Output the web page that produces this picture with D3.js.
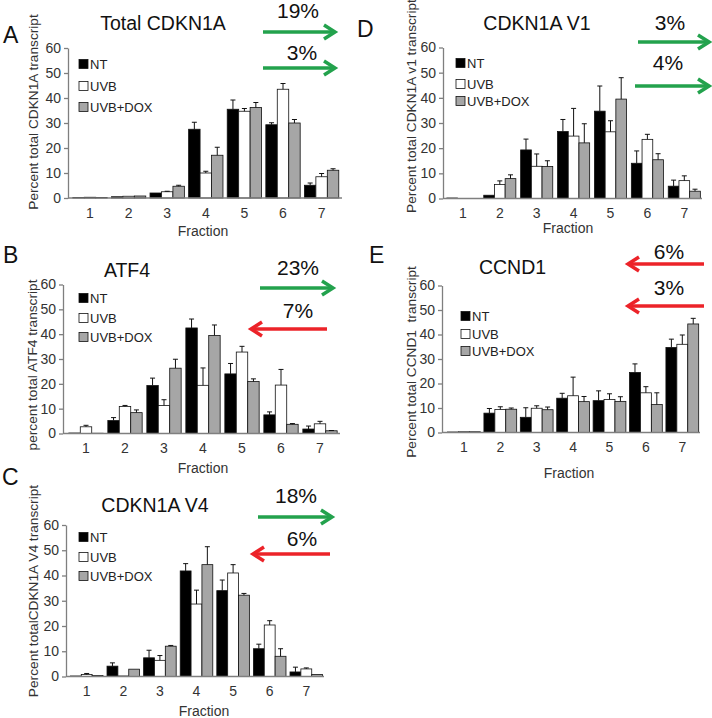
<!DOCTYPE html>
<html>
<head>
<meta charset="utf-8">
<script src="https://cdn.jsdelivr.net/npm/d3@7"></script>
<style>
  html, body { margin: 0; padding: 0; background: #fff; }
  svg { display: block; font-family: Arial, "Liberation Sans", Helvetica, sans-serif; }
</style>
</head>
<body>
<svg id="fig" width="712" height="718"></svg>
<script>
// ---------------- DATA ----------------
const fractions = ["1", "2", "3", "4", "5", "6", "7"];
const seriesNames = ["NT", "UVB", "UVB+DOX"];
const yTicks = [0, 10, 20, 30, 40, 50, 60];
const xAxisLabel = "Fraction";

// Panel A: Total CDKN1A
const totalCDKN1A_NT      = [0.2, 0.5, 2.0, 27.5, 35.5, 29.3, 5.1];
const totalCDKN1A_NT_err  = [0, 0, 0, 2.8, 3.7, 0.8, 0.9];
const totalCDKN1A_UVB     = [0.3, 0.7, 2.5, 10.0, 34.7, 43.5, 8.5];
const totalCDKN1A_UVB_err = [0, 0, 0.2, 0.7, 1.1, 2.3, 1.3];
const totalCDKN1A_DOX     = [0.2, 0.8, 4.7, 17.1, 36.2, 30.0, 11.1];
const totalCDKN1A_DOX_err = [0, 0, 0.4, 3.2, 2.0, 1.4, 0.6];

// Panel B: ATF4
const atf4_NT      = [0.2, 5.2, 19.3, 42.5, 24.0, 7.5, 1.8];
const atf4_NT_err  = [0, 1.2, 3.0, 3.6, 4.2, 1.2, 1.2];
const atf4_UVB     = [2.7, 10.9, 11.3, 19.4, 32.8, 19.5, 3.9];
const atf4_UVB_err = [0.6, 0.4, 2.3, 7.0, 2.3, 6.3, 1.0];
const atf4_DOX     = [0.1, 8.4, 26.3, 39.5, 20.9, 3.7, 1.1];
const atf4_DOX_err = [0, 1.1, 3.6, 4.2, 1.1, 0.3, 0.1];

// Panel C: CDKN1A V4
const v4_NT      = [0.2, 4.1, 7.4, 41.8, 34.0, 11.0, 1.8];
const v4_NT_err  = [0, 1.3, 3.0, 2.9, 4.2, 1.8, 1.9];
const v4_UVB     = [0.8, 0.2, 6.4, 28.7, 41.0, 20.4, 3.0];
const v4_UVB_err = [0.4, 0, 1.9, 5.5, 3.3, 1.7, 0.4];
const v4_DOX     = [0.4, 2.9, 12.0, 44.3, 32.2, 8.0, 0.8];
const v4_DOX_err = [0, 0, 0.3, 7.1, 0.7, 3.0, 0];

// Panel D: CDKN1A V1
const v1_NT      = [0.2, 1.3, 19.3, 26.6, 34.7, 14.0, 4.9];
const v1_NT_err  = [0, 0, 4.3, 4.8, 10.0, 4.9, 2.4];
const v1_UVB     = [0, 5.6, 12.8, 24.8, 26.5, 23.5, 7.1];
const v1_UVB_err = [0, 1.4, 4.9, 11.0, 4.4, 2.0, 1.9];
const v1_DOX     = [0, 7.9, 12.7, 22.1, 39.5, 15.4, 2.9];
const v1_DOX_err = [0, 1.5, 2.3, 7.6, 8.5, 2.4, 0.8];

// Panel E: CCND1
const ccnd1_NT      = [0.2, 7.9, 6.2, 14.0, 13.0, 24.5, 34.7];
const ccnd1_NT_err  = [0, 1.9, 3.9, 2.0, 4.0, 3.5, 3.4];
const ccnd1_UVB     = [0.3, 9.4, 9.9, 15.0, 13.5, 16.2, 36.0];
const ccnd1_UVB_err = [0, 1.1, 1.0, 7.6, 2.3, 2.5, 3.8];
const ccnd1_DOX     = [0.3, 9.5, 9.3, 12.6, 12.7, 11.4, 44.3];
const ccnd1_DOX_err = [0, 0.5, 1.1, 2.1, 1.9, 4.8, 2.3];

// Shift annotations (label text + direction)
const annotA = [{ text: "19%", dir: "right" }, { text: "3%", dir: "right" }];
const annotB = [{ text: "23%", dir: "right" }, { text: "7%", dir: "left" }];
const annotC = [{ text: "18%", dir: "right" }, { text: "6%", dir: "left" }];
const annotD = [{ text: "3%", dir: "right" }, { text: "4%", dir: "right" }];
const annotE = [{ text: "6%", dir: "left" }, { text: "3%", dir: "left" }];

// ---------------- STYLE ----------------
const seriesFill = { "NT": "#000000", "UVB": "#ffffff", "UVB+DOX": "#a6a6a6" };
const arrowColor = { right: "#23a24d", left: "#ec2329" };
const axisColor = "#7f7f7f";

// ---------------- PANELS (data + layout) ----------------
function makeSeries(nt, ntE, uvb, uvbE, dox, doxE) {
  return [
    { name: "NT", values: nt, errs: ntE },
    { name: "UVB", values: uvb, errs: uvbE },
    { name: "UVB+DOX", values: dox, errs: doxE }
  ];
}

const panels = [
  { letter: "A", title: "Total CDKN1A", ylabel: "Percent total CDKN1A transcript",
    series: makeSeries(totalCDKN1A_NT, totalCDKN1A_NT_err, totalCDKN1A_UVB, totalCDKN1A_UVB_err, totalCDKN1A_DOX, totalCDKN1A_DOX_err),
    annot: annotA,
    L: { axisX: 68, axisEnd: 342, y0: 198, y60: 48, cx1: 90, step: 38.6, pad: 0.11,
         letterX: 3, letterY: 43, titleX: 163, titleY: 30,
         ylabX: 38, ylabY: 112, fracX: 203, fracY: 236,
         legX: 79, legY: [64, 86, 107],
         arrows: [{ x1: 263, x2: 335, y: 32, tx: 298, ty: 18 }, { x1: 263, x2: 335, y: 68, tx: 302, ty: 60 }] } },
  { letter: "B", title: "ATF4", ylabel: "percent total ATF4 transcript",
    series: makeSeries(atf4_NT, atf4_NT_err, atf4_UVB, atf4_UVB_err, atf4_DOX, atf4_DOX_err),
    annot: annotB,
    L: { axisX: 63, axisEnd: 340, y0: 433.5, y60: 284.5, cx1: 86, step: 39, pad: 0.12,
         letterX: 3, letterY: 263, titleX: 127, titleY: 276.5,
         ylabX: 37, ylabY: 365, fracX: 203, fracY: 473,
         legX: 79, legY: [298, 318, 337],
         arrows: [{ x1: 260, x2: 333, y: 288, tx: 298, ty: 275 }, { x1: 327, x2: 251, y: 329, tx: 298, ty: 318 }] } },
  { letter: "C", title: "CDKN1A V4", ylabel: "Percent totalCDKN1A V4 transcript",
    series: makeSeries(v4_NT, v4_NT_err, v4_UVB, v4_UVB_err, v4_DOX, v4_DOX_err),
    annot: annotC,
    L: { axisX: 66, axisEnd: 324, y0: 676.5, y60: 525, cx1: 86.7, step: 36.6, pad: 0.11,
         letterX: 2, letterY: 485, titleX: 155, titleY: 511.5,
         ylabX: 38, ylabY: 591, fracX: 204, fracY: 716,
         legX: 79, legY: [537, 557, 576],
         arrows: [{ x1: 258, x2: 332, y: 517, tx: 296, ty: 503 }, { x1: 330, x2: 253, y: 554, tx: 302, ty: 546 }] } },
  { letter: "D", title: "CDKN1A V1", ylabel: "Percent total CDKN1A v1 transcript",
    series: makeSeries(v1_NT, v1_NT_err, v1_UVB, v1_UVB_err, v1_DOX, v1_DOX_err),
    annot: annotD,
    L: { axisX: 443, axisEnd: 702, y0: 198.5, y60: 47.5, cx1: 462.9, step: 36.9, pad: 0.13,
         letterX: 357, letterY: 36.5, titleX: 537, titleY: 30,
         ylabX: 416, ylabY: 106, fracX: 568, fracY: 233,
         legX: 456, legY: [63, 84, 101],
         arrows: [{ x1: 638, x2: 709, y: 42, tx: 670, ty: 30 }, { x1: 635, x2: 709, y: 86, tx: 668, ty: 70 }] } },
  { letter: "E", title: "CCND1", ylabel: "Percent total CCND1  transcript",
    series: makeSeries(ccnd1_NT, ccnd1_NT_err, ccnd1_UVB, ccnd1_UVB_err, ccnd1_DOX, ccnd1_DOX_err),
    annot: annotE,
    L: { axisX: 442, axisEnd: 700, y0: 432.5, y60: 285.5, cx1: 463.9, step: 36.4, pad: 0.1,
         letterX: 369, letterY: 263, titleX: 512.5, titleY: 273.5,
         ylabX: 416, ylabY: 362, fracX: 569, fracY: 478,
         legX: 461, legY: [316, 334, 351],
         arrows: [{ x1: 704, x2: 628, y: 264, tx: 669, ty: 259 }, { x1: 704, x2: 628, y: 306, tx: 669, ty: 295 }] } }
];

// ---------------- DRAW ----------------
const svg = d3.select("#fig");

panels.forEach(p => {
  const L = p.L;
  const g = svg.append("g");

  const y = d3.scaleLinear().domain([0, 60]).range([L.y0, L.y60]);
  const x = d3.scaleBand().domain(fractions)
    .range([L.cx1 - L.step / 2, L.cx1 + (fractions.length - 0.5) * L.step])
    .paddingInner(L.pad).paddingOuter(L.pad / 2);
  const xs = d3.scaleBand().domain(seriesNames).range([0, x.bandwidth()]);

  // bars
  p.series.forEach(s => {
    const sg = g.append("g");
    sg.selectAll("rect").data(fractions).join("rect")
      .attr("x", (f) => x(f) + xs(s.name))
      .attr("y", (f, i) => y(s.values[i]))
      .attr("width", xs.bandwidth())
      .attr("height", (f, i) => y(0) - y(s.values[i]))
      .attr("fill", seriesFill[s.name])
      .attr("stroke", "#111")
      .attr("stroke-width", 0.8);
    // error bars (upper only)
    const eg = sg.selectAll("g.err").data(fractions.map((f, i) => ({ f, v: s.values[i], e: s.errs[i] })).filter(d => d.e > 0))
      .join("g").attr("class", "err");
    eg.append("line")
      .attr("x1", d => x(d.f) + xs(s.name) + xs.bandwidth() / 2)
      .attr("x2", d => x(d.f) + xs(s.name) + xs.bandwidth() / 2)
      .attr("y1", d => y(d.v))
      .attr("y2", d => y(d.v + d.e))
      .attr("stroke", "#111").attr("stroke-width", 1);
    eg.append("line")
      .attr("x1", d => x(d.f) + xs(s.name) + xs.bandwidth() / 2 - 2.5)
      .attr("x2", d => x(d.f) + xs(s.name) + xs.bandwidth() / 2 + 2.5)
      .attr("y1", d => y(d.v + d.e))
      .attr("y2", d => y(d.v + d.e))
      .attr("stroke", "#111").attr("stroke-width", 1);
  });

  // y axis
  const ya = g.append("g").attr("transform", `translate(${L.axisX},0)`)
    .call(d3.axisLeft(y).tickValues(yTicks).tickSize(4).tickSizeOuter(0).tickPadding(3));
  ya.select(".domain").attr("stroke", axisColor).attr("stroke-width", 1.3);
  ya.selectAll(".tick line").attr("stroke", axisColor).attr("stroke-width", 1.3);
  ya.selectAll(".tick text").attr("font-size", 14).attr("fill", "#333")
    .attr("font-family", "Arial, 'Liberation Sans', sans-serif");

  // x axis line
  g.append("line").attr("x1", L.axisX).attr("x2", L.axisEnd)
    .attr("y1", y(0)).attr("y2", y(0))
    .attr("stroke", axisColor).attr("stroke-width", 1.3);
  const xa = g.append("g").attr("transform", `translate(0,${y(0)})`)
    .call(d3.axisBottom(x).tickSize(0).tickPadding(10));
  xa.select(".domain").remove();
  xa.selectAll(".tick text").attr("font-size", 14).attr("fill", "#333")
    .attr("font-family", "Arial, 'Liberation Sans', sans-serif");

  // axis titles
  g.append("text").attr("x", L.fracX).attr("y", L.fracY)
    .attr("text-anchor", "middle").attr("font-size", 14).attr("fill", "#333")
    .text(xAxisLabel);
  g.append("text")
    .attr("transform", `translate(${L.ylabX},${L.ylabY}) rotate(-90)`)
    .attr("text-anchor", "middle").attr("font-size", 13.7).attr("fill", "#333")
    .style("white-space", "pre")
    .text(p.ylabel);

  // panel letter and title
  g.append("text").attr("x", L.letterX).attr("y", L.letterY)
    .attr("font-size", 23).attr("fill", "#111").text(p.letter);
  g.append("text").attr("x", L.titleX).attr("y", L.titleY)
    .attr("text-anchor", "middle").attr("font-size", 19.5).attr("fill", "#111").text(p.title);

  // legend
  seriesNames.forEach((nm, i) => {
    g.append("rect").attr("x", L.legX).attr("y", L.legY[i] - 4.5)
      .attr("width", 9).attr("height", 9)
      .attr("fill", seriesFill[nm]).attr("stroke", "#111").attr("stroke-width", 0.8);
    g.append("text").attr("x", L.legX + 11).attr("y", L.legY[i] + 5)
      .attr("font-size", 13).attr("fill", "#222").text(nm);
  });

  // shift arrows
  p.annot.forEach((a, i) => {
    const ar = L.arrows[i];
    const col = arrowColor[a.dir];
    const dir = ar.x2 > ar.x1 ? 1 : -1;
    g.append("line").attr("x1", ar.x1).attr("x2", ar.x2 - dir * 2)
      .attr("y1", ar.y).attr("y2", ar.y)
      .attr("stroke", col).attr("stroke-width", 3.5);
    g.append("path")
      .attr("d", `M${ar.x2 - dir * 11},${ar.y - 7} L${ar.x2},${ar.y} L${ar.x2 - dir * 11},${ar.y + 7}`)
      .attr("fill", "none").attr("stroke", col).attr("stroke-width", 3.5)
      .attr("stroke-linejoin", "miter").attr("stroke-linecap", "butt");
    g.append("text").attr("x", ar.tx).attr("y", ar.ty)
      .attr("text-anchor", "middle").attr("font-size", 21).attr("fill", "#111").text(a.text);
  });
});
</script>
</body>
</html>
